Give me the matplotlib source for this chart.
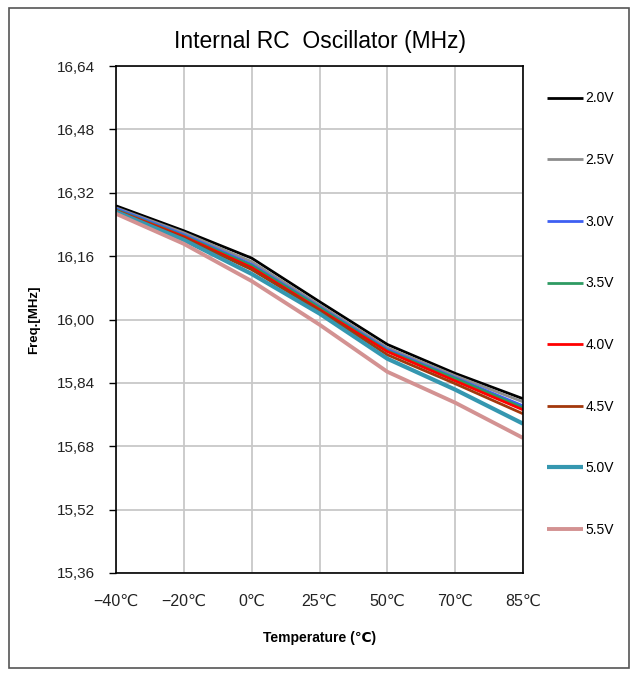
import matplotlib
matplotlib.use("Agg")
import matplotlib.pyplot as plt
from matplotlib.patches import Rectangle
from matplotlib.ticker import FuncFormatter

plt.rcParams['font.family'] = ['Liberation Sans', 'DejaVu Sans']

# -------------- DATA --------------
temps = ["−40℃", "−20℃", "0℃", "25℃", "50℃", "70℃", "85℃"]
labels = ["2.0V", "2.5V", "3.0V", "3.5V", "4.0V", "4.5V", "5.0V", "5.5V"]

v20 = [16.287, 16.224, 16.155, 16.045, 15.937, 15.864, 15.800]
v25 = [16.282, 16.219, 16.146, 16.037, 15.929, 15.858, 15.792]
v30 = [16.280, 16.214, 16.139, 16.032, 15.924, 15.853, 15.782]
v35 = [16.277, 16.211, 16.136, 16.030, 15.921, 15.851, 15.777]
v40 = [16.275, 16.209, 16.131, 16.025, 15.919, 15.845, 15.772]
v45 = [16.274, 16.206, 16.126, 16.022, 15.911, 15.838, 15.762]
v50 = [16.272, 16.201, 16.115, 16.015, 15.901, 15.823, 15.737]
v55 = [16.267, 16.191, 16.097, 15.987, 15.868, 15.790, 15.701]

yticks = [15.36, 15.52, 15.68, 15.84, 16.00, 16.16, 16.32, 16.48, 16.64]
# ----------------------------------

series = [v20, v25, v30, v35, v40, v45, v50, v55]
colors = ["#000000", "#8c8c8c", "#3d5ff2", "#2e9a62", "#ff0000",
          "#a2380c", "#3597b0", "#d39292"]
widths = [2.0, 2.0, 2.0, 2.0, 2.0, 2.0, 3.0, 2.8]

fig = plt.figure(figsize=(6.37, 6.76), dpi=100)
ax = fig.add_axes([116 / 637, 1 - 573 / 676, 407 / 637, 507 / 676])

x = range(len(temps))
for vals, c, w, lab in zip(series, colors, widths, labels):
    ax.plot(x, vals, color=c, linewidth=w, label=lab, solid_capstyle="butt")

ax.set_xlim(0, len(temps) - 1)
ax.set_ylim(yticks[0], yticks[-1])
ax.set_xticks(list(x))
ax.set_xticklabels(temps)
ax.set_yticks(yticks)
ax.yaxis.set_major_formatter(FuncFormatter(lambda v, p: f"{v:.2f}".replace(".", ",")))
ax.grid(True, color="#c8c8c8", linewidth=1.3)
ax.set_axisbelow(True)
ax.tick_params(axis="x", length=0, pad=15, labelsize=11.5)
ax.tick_params(axis="y", length=5, width=1, pad=10, labelsize=11)
ax.tick_params(axis="both", labelcolor="#222222", color="black")
for s in ax.spines.values():
    s.set_color("black")
    s.set_linewidth(1.2)

ax.set_title("Internal RC  Oscillator (MHz)", fontsize=16.5, pad=13)
ax.set_xlabel("Temperature (℃)", fontsize=10, fontweight="bold", labelpad=16)
ax.set_ylabel("Freq.[MHz]", fontsize=9.5, fontweight="bold", labelpad=12)

fig.legend(loc="upper left", bbox_to_anchor=(534 / 637, 1 - 79 / 676),
           frameon=False, fontsize=10, labelspacing=3.43, handlelength=2.6,
           handletextpad=0.2)

fig.patches.append(Rectangle((9 / 637, 8 / 676), 620 / 637, 660 / 676,
                             transform=fig.transFigure, fill=False,
                             edgecolor="#555555", linewidth=1.2))

fig.savefig("out.png", dpi=100)
